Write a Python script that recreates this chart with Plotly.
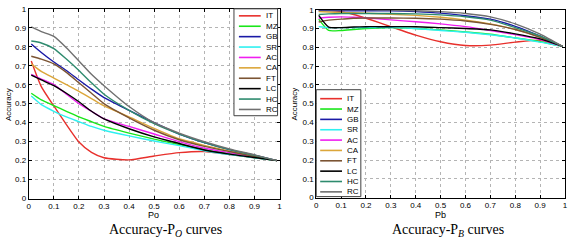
import plotly.graph_objects as go

# ---------------- data ----------------
methods = ["IT", "MZ", "GB", "SR", "AC", "CA", "FT", "LC", "HC", "RC"]
colors = ["#e8302c", "#19e619", "#1a1aa6", "#2ef0f0", "#f01ef0",
          "#dca63a", "#7b5433", "#000000", "#2e8b6e", "#707070"]

x_vals = [0.01, 0.05, 0.1, 0.15, 0.2, 0.25, 0.3, 0.4, 0.5, 0.6, 0.7, 0.8, 0.9, 0.99]
ticks = [0, 0.1, 0.2, 0.3, 0.4, 0.5, 0.6, 0.7, 0.8, 0.9, 1]
tick_text = ["0", "0.1", "0.2", "0.3", "0.4", "0.5", "0.6", "0.7", "0.8", "0.9", "1"]

# Accuracy vs Po
po_IT = [0.725, 0.59, 0.488, 0.39, 0.298, 0.243, 0.215, 0.204, 0.224, 0.242, 0.248, 0.232, 0.215, 0.2]
po_MZ = [0.555, 0.52, 0.49, 0.46, 0.43, 0.405, 0.38, 0.345, 0.313, 0.285, 0.258, 0.236, 0.216, 0.2]
po_GB = [0.815, 0.77, 0.72, 0.675, 0.625, 0.577, 0.532, 0.465, 0.4, 0.34, 0.295, 0.258, 0.228, 0.2]
po_SR = [0.54, 0.495, 0.46, 0.43, 0.405, 0.38, 0.36, 0.33, 0.303, 0.279, 0.252, 0.232, 0.215, 0.2]
po_AC = [0.655, 0.63, 0.6, 0.55, 0.5, 0.46, 0.42, 0.38, 0.34, 0.3, 0.265, 0.242, 0.22, 0.2]
po_CA = [0.71, 0.67, 0.635, 0.6, 0.565, 0.527, 0.488, 0.43, 0.37, 0.315, 0.28, 0.25, 0.223, 0.2]
po_FT = [0.75, 0.735, 0.71, 0.665, 0.61, 0.555, 0.5, 0.425, 0.36, 0.31, 0.275, 0.248, 0.222, 0.2]
po_LC = [0.65, 0.625, 0.595, 0.555, 0.51, 0.46, 0.42, 0.368, 0.325, 0.29, 0.256, 0.234, 0.216, 0.2]
po_HC = [0.83, 0.82, 0.79, 0.735, 0.675, 0.61, 0.55, 0.465, 0.395, 0.34, 0.295, 0.258, 0.228, 0.2]
po_RC = [0.905, 0.88, 0.855, 0.795, 0.725, 0.655, 0.595, 0.485, 0.4, 0.345, 0.3, 0.262, 0.23, 0.2]

# Accuracy vs Pb
pb_IT = [1.0, 0.998, 0.99, 0.975, 0.955, 0.933, 0.91, 0.865, 0.83, 0.81, 0.812, 0.828, 0.838, 0.805]
pb_MZ = [0.95, 0.89, 0.89, 0.895, 0.9, 0.903, 0.905, 0.9, 0.893, 0.882, 0.87, 0.85, 0.83, 0.805]
pb_GB = [0.995, 0.995, 0.995, 0.995, 0.995, 0.995, 0.995, 0.99, 0.982, 0.968, 0.95, 0.912, 0.86, 0.805]
pb_SR = [0.91, 0.905, 0.905, 0.905, 0.905, 0.905, 0.905, 0.9, 0.89, 0.88, 0.867, 0.85, 0.828, 0.805]
pb_AC = [0.955, 0.96, 0.962, 0.96, 0.957, 0.952, 0.946, 0.936, 0.925, 0.91, 0.89, 0.868, 0.842, 0.805]
pb_CA = [0.99, 0.988, 0.986, 0.984, 0.982, 0.979, 0.976, 0.97, 0.96, 0.945, 0.925, 0.895, 0.855, 0.805]
pb_FT = [0.935, 0.945, 0.95, 0.955, 0.956, 0.956, 0.956, 0.955, 0.95, 0.94, 0.922, 0.895, 0.853, 0.805]
pb_LC = [0.97, 0.908, 0.905, 0.908, 0.91, 0.91, 0.91, 0.91, 0.905, 0.9, 0.893, 0.872, 0.845, 0.805]
pb_HC = [0.975, 0.978, 0.98, 0.98, 0.98, 0.98, 0.98, 0.978, 0.973, 0.963, 0.945, 0.905, 0.86, 0.805]
pb_RC = [1.0, 1.0, 1.0, 1.0, 1.0, 0.999, 0.998, 0.995, 0.99, 0.98, 0.962, 0.925, 0.87, 0.805]

po_series = [po_IT, po_MZ, po_GB, po_SR, po_AC, po_CA, po_FT, po_LC, po_HC, po_RC]
pb_series = [pb_IT, pb_MZ, pb_GB, pb_SR, pb_AC, pb_CA, pb_FT, pb_LC, pb_HC, pb_RC]

# ---------------- figure ----------------
W, H = 572, 244
fig = go.Figure()

for name, col, ys in zip(methods, colors, po_series):
    fig.add_trace(go.Scatter(x=x_vals, y=ys, mode="lines", name=name,
                             line=dict(color=col, width=1.4, shape="spline", smoothing=0.6),
                             xaxis="x", yaxis="y", showlegend=False))
for name, col, ys in zip(methods, colors, pb_series):
    fig.add_trace(go.Scatter(x=x_vals, y=ys, mode="lines", name=name,
                             line=dict(color=col, width=1.4, shape="spline", smoothing=0.6),
                             xaxis="x2", yaxis="y2", showlegend=False))

def px_x(p):
    return p / W

def px_y(p):
    return 1 - p / H

axis_common = dict(range=[0, 1], tickvals=ticks, ticktext=tick_text,
                   showgrid=True, gridcolor="#b4b4b4", griddash="dot", gridwidth=1,
                   showline=True, linecolor="black", linewidth=1, mirror="ticks",
                   ticks="inside", ticklen=3, tickcolor="black",
                   tickfont=dict(family="Liberation Sans, Arial", size=8, color="black"),
                   zeroline=False, fixedrange=True)

fig.update_layout(
    width=W, height=H,
    margin=dict(l=0, r=0, t=0, b=0),
    paper_bgcolor="white", plot_bgcolor="white",
    xaxis=dict(domain=[px_x(27), px_x(280)], anchor="y", **axis_common),
    yaxis=dict(domain=[px_y(202), px_y(5)], anchor="x", **axis_common),
    xaxis2=dict(domain=[px_x(317), px_x(568)], anchor="y2", **axis_common),
    yaxis2=dict(domain=[px_y(201), px_y(6)], anchor="x2", **axis_common),
)

annotations = []
shapes = []

def text_ann(x, y, text, size=8, family="Liberation Sans, Arial", angle=0, xanchor="center"):
    annotations.append(dict(x=px_x(x), y=px_y(y), xref="paper", yref="paper", text=text,
                            showarrow=False, textangle=angle, xanchor=xanchor, yanchor="middle",
                            font=dict(family=family, size=size, color="black")))

# axis titles
text_ann(153, 219, "Po", size=9)
text_ann(442, 219, "Pb", size=9)
text_ann(6, 104, "Accuracy", size=8, angle=-90)
text_ann(295, 104, "Accuracy", size=8, angle=-90)

# captions
text_ann(165, 235, "Accuracy-P<sub><i>O</i></sub> curves", size=14, family="Liberation Serif, DejaVu Serif")
text_ann(450, 235, "Accuracy-P<sub><i>B</i></sub> curves", size=14, family="Liberation Serif, DejaVu Serif")

# legends (MATLAB style boxes)
def legend_box(x0, y0, x1, y1, first_y, step, lx0, lx1, tx):
    shapes.append(dict(type="rect", xref="paper", yref="paper",
                       x0=px_x(x0), x1=px_x(x1), y0=px_y(y1), y1=px_y(y0),
                       line=dict(color="#404040", width=1), fillcolor="white", layer="above"))
    for i, (name, col) in enumerate(zip(methods, colors)):
        yy = first_y + i * step
        shapes.append(dict(type="line", xref="paper", yref="paper",
                           x0=px_x(lx0), x1=px_x(lx1), y0=px_y(yy), y1=px_y(yy),
                           line=dict(color=col, width=1.6), layer="above"))
        text_ann(tx, yy, name, size=8, xanchor="left")

legend_box(234, 5, 278, 116, 12.3, 10.8, 239, 261, 264)
legend_box(317, 89, 362, 200, 98.3, 10.75, 321, 343, 346)

fig.update_layout(annotations=annotations, shapes=shapes)

fig.write_html("out.html", config={"displayModeBar": False},
               post_script="document.body.style.margin='0';document.body.style.overflow='hidden';")
